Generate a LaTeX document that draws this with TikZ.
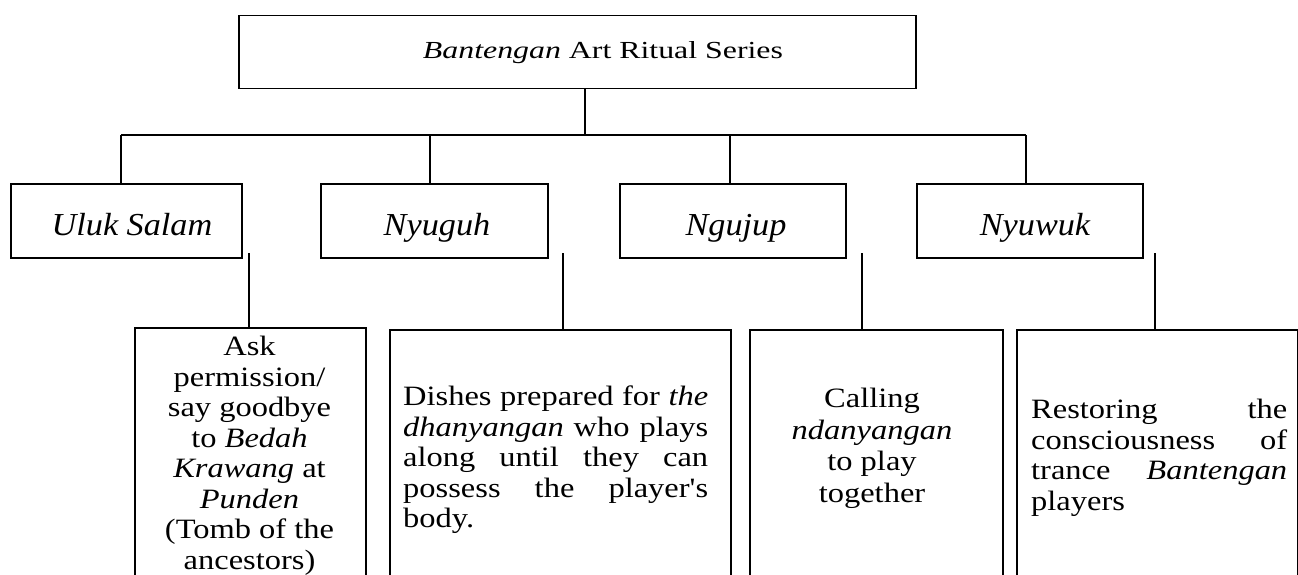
\documentclass[tikz,border=0pt]{standalone}
\usepackage{fontspec}
\setmainfont[FakeStretch=1.16]{Liberation Serif}
\newfontfamily\titlefont[FakeStretch=1.3]{Liberation Serif}
\newfontfamily\lvlfont[FakeStretch=1.07]{Liberation Serif}
\newfontfamily\plainq[FakeStretch=1.16,Ligatures=TeXOff]{Liberation Serif}
\begin{document}
\begin{tikzpicture}[x=1pt,y=-1pt,
  box/.style={draw, line width=1.5pt, inner sep=0pt, anchor=north west},
  conn/.style={line width=1.5pt},
  lvl/.style={font=\lvlfont\fontsize{32}{36}\selectfont\itshape, anchor=base, inner sep=0pt},
  body/.style={font=\fontsize{28}{30.5}\selectfont, inner sep=0pt, anchor=north},
]
\useasboundingbox (0,0) rectangle (1298,575);
\clip (0,0) rectangle (1298,575);
\fill[white] (0,0) rectangle (1298,575);

% boxes
\node[box, minimum width=677pt, minimum height=73pt] (top) at (238,15) {};
\node[box, minimum width=231pt, minimum height=74pt] (uluk) at (10,183) {};
\node[box, minimum width=227pt, minimum height=74pt] (nyuguh) at (320,183) {};
\node[box, minimum width=226pt, minimum height=74pt] (ngujup) at (619,183) {};
\node[box, minimum width=226pt, minimum height=74pt] (nyuwuk) at (916,183) {};
\node[box, minimum width=231pt, minimum height=300pt] (ask) at (134,327) {};
\node[box, minimum width=341pt, minimum height=300pt] (dishes) at (389,329) {};
\node[box, minimum width=253pt, minimum height=300pt] (calling) at (749,329) {};
\node[box, minimum width=281pt, minimum height=300pt] (restoring) at (1016,329) {};

% texts
\node[font=\titlefont\fontsize{24.5}{28}\selectfont, anchor=base, inner sep=0pt] (ttl) at (603,59) {\textit{Bantengan} Art Ritual Series};
\node[lvl] (tuluk) at (132,235) {Uluk Salam};
\node[lvl] (tnyuguh) at (437,235) {Nyuguh};
\node[lvl] (tngujup) at (736,235) {Ngujup};
\node[lvl] (tnyuwuk) at (1035,235) {Nyuwuk};

\node[body, align=center] (task) at (249.5,336) {Ask\\ permission/\\ say goodbye\\ to \textit{Bedah}\\ \textit{Krawang} at\\ \textit{Punden}\\ (Tomb of the\\ ancestors)};
\node[body, anchor=north west, align=left] (tdishes) at (403,386) {\makebox[305pt][s]{Dishes prepared for \textit{the}}\\ \makebox[305pt][s]{\textit{dhanyangan} who plays}\\ \makebox[305pt][s]{along until they can}\\ \makebox[305pt][s]{possess the player{\plainq'}s}\\ body.};
\node[body, align=center, font=\fontsize{28}{31.5}\selectfont] (tcalling) at (872,388) {Calling\\ \textit{ndanyangan}\\ to play\\ together};
\node[body, anchor=north west, align=left] (trestoring) at (1031,399) {\makebox[256pt][s]{Restoring the}\\ \makebox[256pt][s]{consciousness of}\\ \makebox[256pt][s]{trance \textit{Bantengan}}\\ players};

% connectors
\coordinate (hub) at (585,135);
\coordinate (b1) at (121,135);
\coordinate (b2) at (430,135);
\coordinate (b3) at (730,135);
\coordinate (b4) at (1026,135);
\draw[conn] (hub |- top.south) -- (hub);
\draw[conn] (b1) -- (b4);
\draw[conn] (b1) -- (b1 |- uluk.north);
\draw[conn] (b2) -- (b2 |- nyuguh.north);
\draw[conn] (b3) -- (b3 |- ngujup.north);
\draw[conn] (b4) -- (b4 |- nyuwuk.north);

\coordinate (s1) at (249,253);
\coordinate (s2) at (563,253);
\coordinate (s3) at (862,253);
\coordinate (s4) at (1155,253);
\draw[conn] (s1) -- (s1 |- ask.north);
\draw[conn] (s2) -- (s2 |- dishes.north);
\draw[conn] (s3) -- (s3 |- calling.north);
\draw[conn] (s4) -- (s4 |- restoring.north);
\end{tikzpicture}
\end{document}
